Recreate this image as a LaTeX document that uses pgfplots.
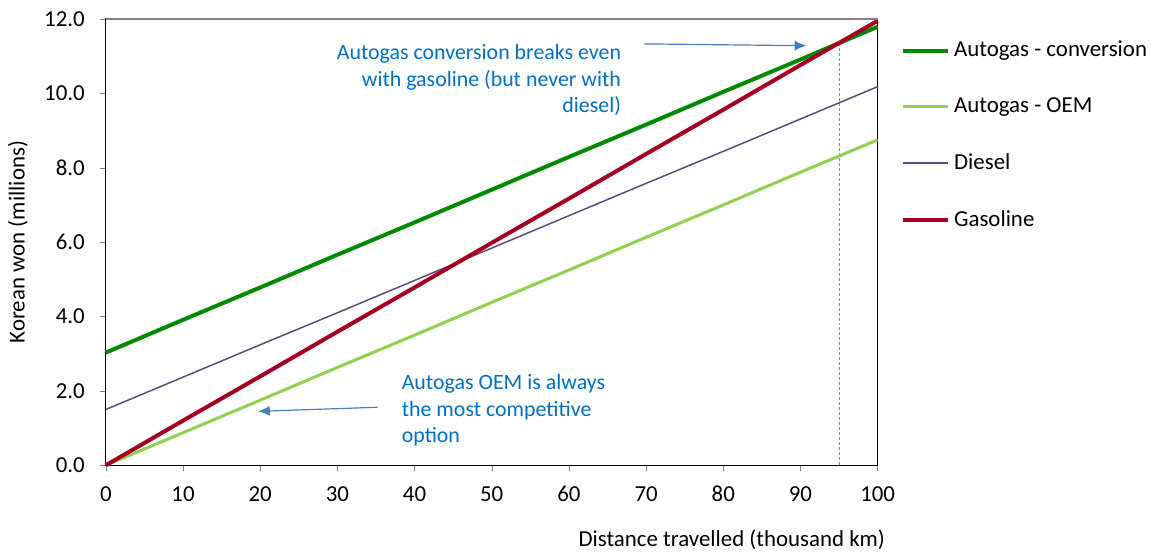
\documentclass[border=0pt]{standalone}
\usepackage{fontspec}
\setmainfont{Carlito}
\usepackage{pgfplots}
\pgfplotsset{compat=1.18}
\usetikzlibrary{arrows.meta}

\definecolor{convgreen}{HTML}{008A00}
\definecolor{oemgreen}{HTML}{92D050}
\definecolor{dieselpurple}{HTML}{604A7B}
\definecolor{gasred}{HTML}{A50021}
\definecolor{notetext}{HTML}{0070C0}
\definecolor{notearrow}{HTML}{4A7EBB}
\definecolor{markerblue}{HTML}{5B9BD5}

\begin{document}
\begin{tikzpicture}
\begin{axis}[
  scale only axis,
  width=386.5bp, height=223.5bp,
  xmin=0, xmax=100, ymin=0, ymax=12,
  xtick={0,10,...,100},
  ytick={0,2,...,12},
  tick align=outside,
  xtick pos=bottom, ytick pos=left,
  major tick length=3bp,
  axis line style={black, line width=0.6pt},
  font=\fontsize{11.5}{13.5}\selectfont,
  yticklabel style={xshift=-4bp, /pgf/number format/.cd, fixed, fixed zerofill, precision=1, assume math mode=true},
  xticklabel style={yshift=-4bp, /pgf/number format/assume math mode=true},
  ylabel={Korean won (millions)},
  ylabel style={at={(axis description cs:-0.114,0.5)}, anchor=center},
  xlabel={Distance travelled (thousand km)},
  xlabel style={at={(axis description cs:0.811,-0.166)}, anchor=center},
  clip=false,
  legend cell align=left,
  legend style={draw=none, fill=none, inner sep=0pt,
    at={(rel axis cs:1.030,0.960)}, anchor=north west,
    row sep=15bp, font=\fontsize{11.5}{13.5}\selectfont},
  legend image code/.code={\draw[#1] (0bp,0bp) -- (22.5bp,0bp);},
]

% break-even marker
\addplot[markerblue, line width=0.5bp, dash pattern=on 1.5bp off 1bp, forget plot] coordinates {(95,0) (95,11.35)};

\addplot[convgreen, line width=2bp] coordinates {
  (0,3.03) (10,3.91) (20,4.78) (30,5.66) (40,6.53) (50,7.41)
  (60,8.29) (70,9.16) (80,10.04) (90,10.91) (100,11.79)
};
\addplot[oemgreen, line width=1.5bp] coordinates {
  (0,0) (10,0.875) (20,1.75) (30,2.63) (40,3.50) (50,4.38)
  (60,5.25) (70,6.13) (80,7.00) (90,7.88) (100,8.75)
};
\addplot[dieselpurple, line width=0.75bp] coordinates {
  (0,1.50) (10,2.37) (20,3.24) (30,4.10) (40,4.97) (50,5.84)
  (60,6.71) (70,7.58) (80,8.44) (90,9.31) (100,10.18)
};
\addplot[gasred, line width=2bp] coordinates {
  (0,0) (10,1.20) (20,2.39) (30,3.59) (40,4.78) (50,5.98)
  (60,7.17) (70,8.37) (80,9.56) (90,10.76) (100,11.95)
};
\legend{Autogas - conversion, Autogas - OEM, Diesel, Gasoline}

% top border in grey
\draw[gray, line width=0.6pt] (rel axis cs:0,1) -- (rel axis cs:1,1);

% annotations
\draw[notearrow, line width=0.6pt, -{Latex[length=6bp, width=5bp]}] (axis cs:69.7,11.33) -- (axis cs:90.8,11.28);
\node[notetext, align=right, anchor=east, inner sep=0pt, font=\fontsize{11}{13.5}\selectfont]
  at (axis cs:66.8,10.36) {Autogas conversion breaks even\\with gasoline (but never with\\diesel)};
\draw[notearrow, line width=0.6pt, -{Latex[length=6bp, width=5bp]}] (axis cs:35.2,1.56) -- (axis cs:19.7,1.45);
\node[notetext, align=left, anchor=west, inner sep=0pt, font=\fontsize{11}{13.5}\selectfont]
  at (axis cs:38.3,1.48) {Autogas OEM is always\\the most competitive\\option};

% page frame matching the reference size
\path (rel axis cs:-0.1371,-0.1902) rectangle (rel axis cs:1.3519,1.0425);
\end{axis}
\end{tikzpicture}
\end{document}
